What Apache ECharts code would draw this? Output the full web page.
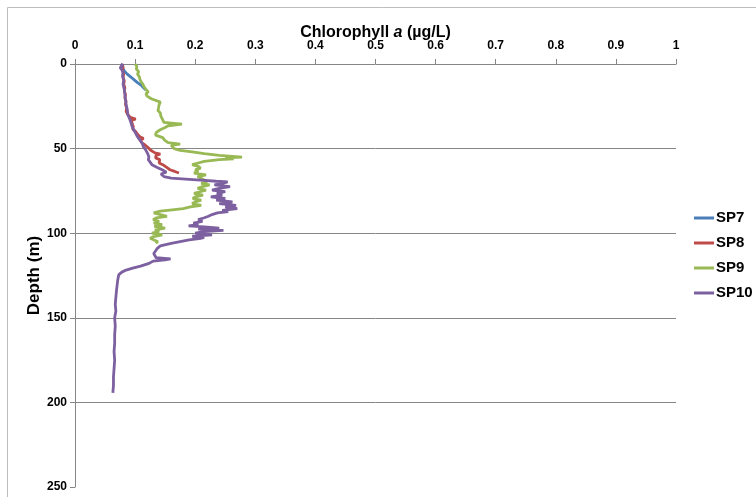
<!DOCTYPE html>
<html>
<head>
<meta charset="utf-8">
<script src="https://cdn.jsdelivr.net/npm/echarts@6/dist/echarts.min.js"></script>
<style>
html,body{margin:0;padding:0;background:#fff;}
#c{width:756px;height:497px;}
</style>
</head>
<body>
<div id="c"></div>
<script>
// ---- data ----
const seriesNames = ['SP7', 'SP8', 'SP9', 'SP10'];
const xTicks = [0, 0.1, 0.2, 0.3, 0.4, 0.5, 0.6, 0.7, 0.8, 0.9, 1];
const yTicks = [0, 50, 100, 150, 200, 250];

const sp7Depth = [0, 1.5, 3, 4.5, 6, 7, 8, 9.5, 11, 12.5, 14, 15.4];
const sp7Chl   = [0.078, 0.079, 0.080, 0.083, 0.087, 0.090, 0.094, 0.099, 0.104, 0.110, 0.114, 0.118];

const sp8Depth = [0, 2, 4, 6, 8, 10, 12, 14, 16, 18, 20, 22, 24, 26, 28, 30, 31.5, 32.5, 33.5, 35, 37, 38.5, 40, 41.5, 43, 44, 45, 46.5, 48, 49.5, 51, 52.5, 53.2, 54, 55.5, 56.5, 57.5, 58.5, 59.5, 61, 62.5, 63.5, 64.4];
const sp8Chl   = [0.079, 0.080, 0.079, 0.081, 0.080, 0.082, 0.081, 0.083, 0.082, 0.084, 0.083, 0.085, 0.084, 0.086, 0.085, 0.088, 0.092, 0.101, 0.093, 0.095, 0.097, 0.096, 0.101, 0.104, 0.108, 0.114, 0.109, 0.111, 0.117, 0.122, 0.126, 0.133, 0.142, 0.135, 0.134, 0.141, 0.144, 0.140, 0.146, 0.152, 0.158, 0.166, 0.173];

const sp9Depth = [0, 1.5, 3, 4.5, 6, 7.5, 9, 10.5, 12, 13.5, 15, 16.5, 17.5, 19, 20.5, 21.5, 22.5, 24, 26, 27.5, 29, 31, 33, 34.5, 35.5, 36.5, 37.5, 39, 40.5, 42, 43.5, 45, 46.5, 47.3, 48, 49, 50, 51, 52, 53, 54, 55, 55.5, 56, 56.5, 57.5, 58.5, 59.5, 60.5, 61.5, 62.5, 63.5, 64.5, 65.5, 66.5, 67.5, 68.5, 69.5, 70.5, 71.5, 72.5, 73.5, 74.5, 75.5, 76.5, 77.5, 78.5, 79.5, 80.5, 81.5, 82.5, 83.5, 84.5, 85.5, 86.3, 87, 88, 89, 90, 91, 92, 93, 94, 95, 96, 97, 98, 99, 100, 101, 102, 103, 104, 105, 105.8];
const sp9Chl   = [0.100, 0.103, 0.102, 0.106, 0.104, 0.107, 0.108, 0.110, 0.113, 0.115, 0.118, 0.122, 0.118, 0.120, 0.127, 0.128, 0.142, 0.140, 0.139, 0.138, 0.142, 0.143, 0.146, 0.148, 0.178, 0.155, 0.150, 0.141, 0.135, 0.134, 0.146, 0.149, 0.155, 0.175, 0.160, 0.158, 0.165, 0.175, 0.195, 0.215, 0.240, 0.278, 0.250, 0.264, 0.240, 0.215, 0.205, 0.195, 0.205, 0.209, 0.200, 0.205, 0.198, 0.218, 0.204, 0.201, 0.215, 0.220, 0.210, 0.224, 0.212, 0.204, 0.218, 0.208, 0.198, 0.213, 0.200, 0.196, 0.210, 0.200, 0.195, 0.210, 0.192, 0.180, 0.158, 0.142, 0.131, 0.129, 0.153, 0.135, 0.130, 0.140, 0.131, 0.145, 0.132, 0.150, 0.133, 0.140, 0.128, 0.145, 0.131, 0.125, 0.122, 0.138, 0.134];

const sp10Depth = [0, 1, 2, 3.5, 5, 7, 9.5, 12, 15, 18, 21, 24, 27, 30, 32.5, 34.5, 37, 39, 41, 43, 45, 47, 49, 51, 53, 55, 56.5, 58, 59.5, 61, 62.5, 64, 65, 66.5, 67.5, 68.2, 68.8, 69.3, 69.7, 70.5, 71.5, 72.5, 73.5, 74.5, 75.5, 76.5, 77.5, 78.5, 79.5, 80.5, 81.5, 82.5, 83.5, 84.5, 85.5, 86.5, 87.2, 88, 89, 90, 91, 92, 93, 94, 95, 95.7, 96.3, 97, 97.6, 98.3, 99, 100, 101, 101.8, 102.5, 103, 104, 105, 106, 107.5, 109, 110.5, 112, 113, 114.5, 115.2, 115.8, 116.5, 118, 119.5, 120.6, 121.8, 123, 124.5, 126, 128, 131, 134, 138, 142, 146, 150, 155, 160, 165, 170, 175, 180, 185, 190, 194.4];
const sp10Chl   = [0.076, 0.080, 0.075, 0.078, 0.080, 0.079, 0.081, 0.080, 0.082, 0.083, 0.084, 0.085, 0.087, 0.088, 0.091, 0.093, 0.095, 0.098, 0.101, 0.104, 0.108, 0.112, 0.114, 0.118, 0.121, 0.123, 0.122, 0.125, 0.128, 0.136, 0.145, 0.152, 0.143, 0.148, 0.160, 0.190, 0.215, 0.235, 0.254, 0.245, 0.232, 0.258, 0.240, 0.228, 0.250, 0.236, 0.245, 0.226, 0.250, 0.235, 0.262, 0.240, 0.268, 0.250, 0.270, 0.245, 0.255, 0.237, 0.228, 0.222, 0.214, 0.205, 0.212, 0.197, 0.205, 0.189, 0.215, 0.240, 0.205, 0.247, 0.215, 0.200, 0.228, 0.195, 0.215, 0.209, 0.190, 0.175, 0.160, 0.142, 0.137, 0.134, 0.131, 0.129, 0.135, 0.159, 0.150, 0.130, 0.122, 0.109, 0.096, 0.085, 0.078, 0.073, 0.072, 0.071, 0.070, 0.069, 0.068, 0.067, 0.068, 0.066, 0.067, 0.066, 0.066, 0.065, 0.066, 0.065, 0.064, 0.064, 0.063];

const colors = ['#4A7EBB', '#BE4B48', '#98B954', '#7D60A0'];

function zip(xs, ys) { return xs.map((x, i) => [x, ys[i]]); }
const seriesData = [
  zip(sp7Chl, sp7Depth),
  zip(sp8Chl, sp8Depth),
  zip(sp9Chl, sp9Depth),
  zip(sp10Chl, sp10Depth)
];

const FONT = '"Liberation Sans", Arial, sans-serif';
const chart = echarts.init(document.getElementById('c'), null, { renderer: 'canvas' });
chart.setOption({
  animation: false,
  backgroundColor: '#fff',
  color: colors,
  graphic: [{
    type: 'rect', shape: { x: 7.5, y: 7.5, width: 800, height: 600 },
    style: { fill: 'none', stroke: '#bdbdbd', lineWidth: 1 }, silent: true, z: -1
  }],
  grid: { left: 75, right: 80, top: 64, bottom: 10, containLabel: false },
  legend: {
    orient: 'vertical', left: 689, top: 205,
    icon: 'rect', itemWidth: 20, itemHeight: 3, itemGap: 9,
    textStyle: { fontFamily: FONT, fontWeight: 'bold', fontSize: 15, color: '#000', lineHeight: 16, padding: [0, 0, 0, -3] },
    data: seriesNames
  },
  xAxis: {
    type: 'value', position: 'top', min: xTicks[0], max: xTicks[xTicks.length - 1], interval: 0.1,
    name: '{n|Chlorophyll }{i|a}{n| (µg/L)}', nameLocation: 'middle', nameGap: 23, nameMoveOverlap: false,
    nameTextStyle: {
      rich: {
        n: { fontFamily: FONT, fontWeight: 'bold', fontSize: 16, color: '#000' },
        i: { fontFamily: FONT, fontWeight: 'bold', fontStyle: 'italic', fontSize: 16, color: '#000' }
      }
    },
    axisLine: { show: true, lineStyle: { color: '#868686', width: 1 } },
    axisTick: { show: true, inside: false, length: 5, lineStyle: { color: '#868686' } },
    axisLabel: { fontFamily: FONT, fontWeight: 'bold', fontSize: 12, color: '#000', margin: 12,
      formatter: v => String(Math.round(v * 10) / 10) },
    splitLine: { show: false }
  },
  yAxis: {
    type: 'value', inverse: true, min: yTicks[0], max: yTicks[yTicks.length - 1], interval: 50,
    name: 'Depth (m)', nameLocation: 'middle', nameGap: 32, nameRotate: 90, nameMoveOverlap: false,
    nameTextStyle: { fontFamily: FONT, fontWeight: 'bold', fontSize: 17, color: '#000' },
    axisLine: { show: true, lineStyle: { color: '#868686', width: 1 } },
    axisTick: { show: true, inside: false, length: 5, lineStyle: { color: '#868686' } },
    axisLabel: { fontFamily: FONT, fontWeight: 'bold', fontSize: 12, color: '#000', margin: 8 },
    splitLine: { show: true, showMinLine: false, showMaxLine: false, lineStyle: { color: '#868686', width: 1 } }
  },
  series: seriesNames.map((n, i) => ({
    name: n, type: 'line', data: seriesData[i], showSymbol: false, symbol: 'none',
    lineStyle: { width: 2.8, color: colors[i] }, itemStyle: { color: colors[i] }, z: 2 + i
  }))
});
</script>
</body>
</html>
